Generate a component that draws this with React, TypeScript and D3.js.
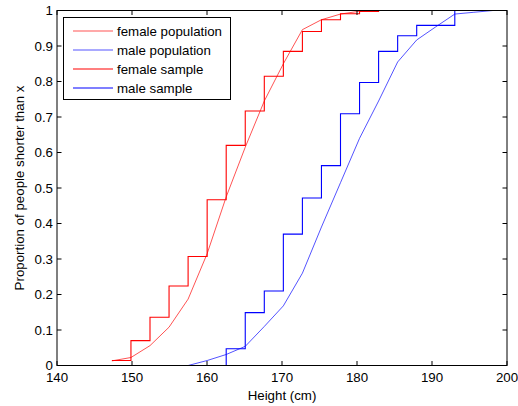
import React from "react";
import * as d3 from "d3";

// Bin edges (cm) where the empirical CDFs step
const binEdges = [147.32, 149.86, 152.4, 154.94, 157.48, 160.02, 162.56, 165.1, 167.64, 170.18, 172.72, 175.26, 177.8, 180.34, 182.88, 185.42, 187.96, 190.5, 193.04, 195.58, 198.12];

const femaleSample = [0.014, 0.07, 0.136, 0.224, 0.307, 0.467, 0.62, 0.717, 0.815, 0.885, 0.941, 0.974, 0.991, 0.997, 1.0, 1.0, 1.0, 1.0, 1.0, 1.0];
const maleSample = [0, 0, 0, 0, 0, 0, 0.047, 0.149, 0.21, 0.37, 0.472, 0.563, 0.709, 0.797, 0.885, 0.929, 0.958, 0.958, 1.0, 1.0];

const femalePopulation = [0.013, 0.0225, 0.056, 0.108, 0.187, 0.315, 0.475, 0.615, 0.745, 0.85, 0.946, 0.974, 0.99, 0.998, 1.0, 1.0, 1.0, 1.0, 1.0, 1.0, 1.0];
const malePopulation = [0, 0, 0, 0, 0, 0.014, 0.031, 0.054, 0.11, 0.168, 0.26, 0.39, 0.515, 0.64, 0.745, 0.855, 0.917, 0.954, 0.99, 0.995, 1.0];

const xTicks = [140, 150, 160, 170, 180, 190, 200];
const yTicks = [0, 0.1, 0.2, 0.3, 0.4, 0.5, 0.6, 0.7, 0.8, 0.9, 1];

const legendItems = [
  { label: "female population", color: "#ff0000", pop: true },
  { label: "male population", color: "#0000ff", pop: true },
  { label: "female sample", color: "#ff0000", pop: false },
  { label: "male sample", color: "#0000ff", pop: false },
];

const W = 518;
const H = 406;
const FONT = "'Liberation Sans', Arial, sans-serif";

export default function App() {
  const x = d3.scaleLinear().domain([140, 200]).range([57, 507]);
  const y = d3.scaleLinear().domain([0, 1]).range([365.5, 10.5]);

  const stair = d3
    .line<[number, number]>()
    .x((d) => x(d[0]))
    .y((d) => y(d[1]))
    .curve(d3.curveStepAfter);
  const lin = d3
    .line<[number, number]>()
    .x((d) => x(d[0]))
    .y((d) => y(d[1]));

  const fs = femaleSample.map((v, i) => [binEdges[i], v] as [number, number]);
  const ms = maleSample.map((v, i) => [binEdges[i], v] as [number, number]);
  const fp = femalePopulation.map((v, i) => [binEdges[i], v] as [number, number]);
  const mp = malePopulation.map((v, i) => [binEdges[i], v] as [number, number]);

  const left = x(140);
  const right = x(200);
  const top = y(1);
  const bottom = y(0);
  const tl = 4.5;

  return (
    <svg
      width={W}
      height={H}
      style={{ position: "absolute", left: 0, top: 0, background: "#fff" }}
      fontFamily={FONT}
    >
      <rect x={0} y={0} width={W} height={H} fill="#fff" />
      {/* data */}
      <path d={lin(fp) || ""} fill="none" stroke="#ff0000" strokeWidth={0.8} strokeOpacity={0.85} />
      <path d={lin(mp) || ""} fill="none" stroke="#0000ff" strokeWidth={0.8} strokeOpacity={0.85} />
      <path d={stair(fs) || ""} fill="none" stroke="#ff0000" strokeWidth={1.1} />
      <path d={stair(ms) || ""} fill="none" stroke="#0000ff" strokeWidth={1.1} />

      {/* axes box */}
      <rect x={left} y={top} width={right - left} height={bottom - top} fill="none" stroke="#000" strokeWidth={1} />
      {xTicks.map((t) => (
        <g key={"x" + t}>
          <line x1={x(t)} x2={x(t)} y1={bottom} y2={bottom - tl} stroke="#000" />
          <line x1={x(t)} x2={x(t)} y1={top} y2={top + tl} stroke="#000" />
          <text x={x(t)} y={381.5} fontSize={13.3} textAnchor="middle" fill="#000">
            {t}
          </text>
        </g>
      ))}
      {yTicks.map((t) => (
        <g key={"y" + t}>
          <line x1={left} x2={left + tl} y1={y(t)} y2={y(t)} stroke="#000" />
          <line x1={right} x2={right - tl} y1={y(t)} y2={y(t)} stroke="#000" />
          <text x={53} y={y(t) + 4.7} fontSize={13.3} textAnchor="end" fill="#000">
            {String(t)}
          </text>
        </g>
      ))}
      <text x={(left + right) / 2} y={399.5} fontSize={13.3} textAnchor="middle" fill="#000">
        Height (cm)
      </text>
      <text
        transform={`translate(24,${(top + bottom) / 2}) rotate(-90)`}
        fontSize={13.3}
        textAnchor="middle"
        fill="#000"
      >
        Proportion of people shorter than x
      </text>

      {/* legend */}
      <rect x={63.5} y={17.5} width={167} height={82} fill="#fff" stroke="#000" strokeWidth={1} />
      {legendItems.map((it, i) => {
        const ly = 31 + i * 19;
        return (
          <g key={it.label}>
            <line
              x1={73}
              x2={113}
              y1={ly}
              y2={ly}
              stroke={it.color}
              strokeWidth={it.pop ? 0.8 : 1.1}
              strokeOpacity={it.pop ? 0.85 : 1}
            />
            <text x={117} y={ly + 4.7} fontSize={13.3} fill="#000">
              {it.label}
            </text>
          </g>
        );
      })}
    </svg>
  );
}
